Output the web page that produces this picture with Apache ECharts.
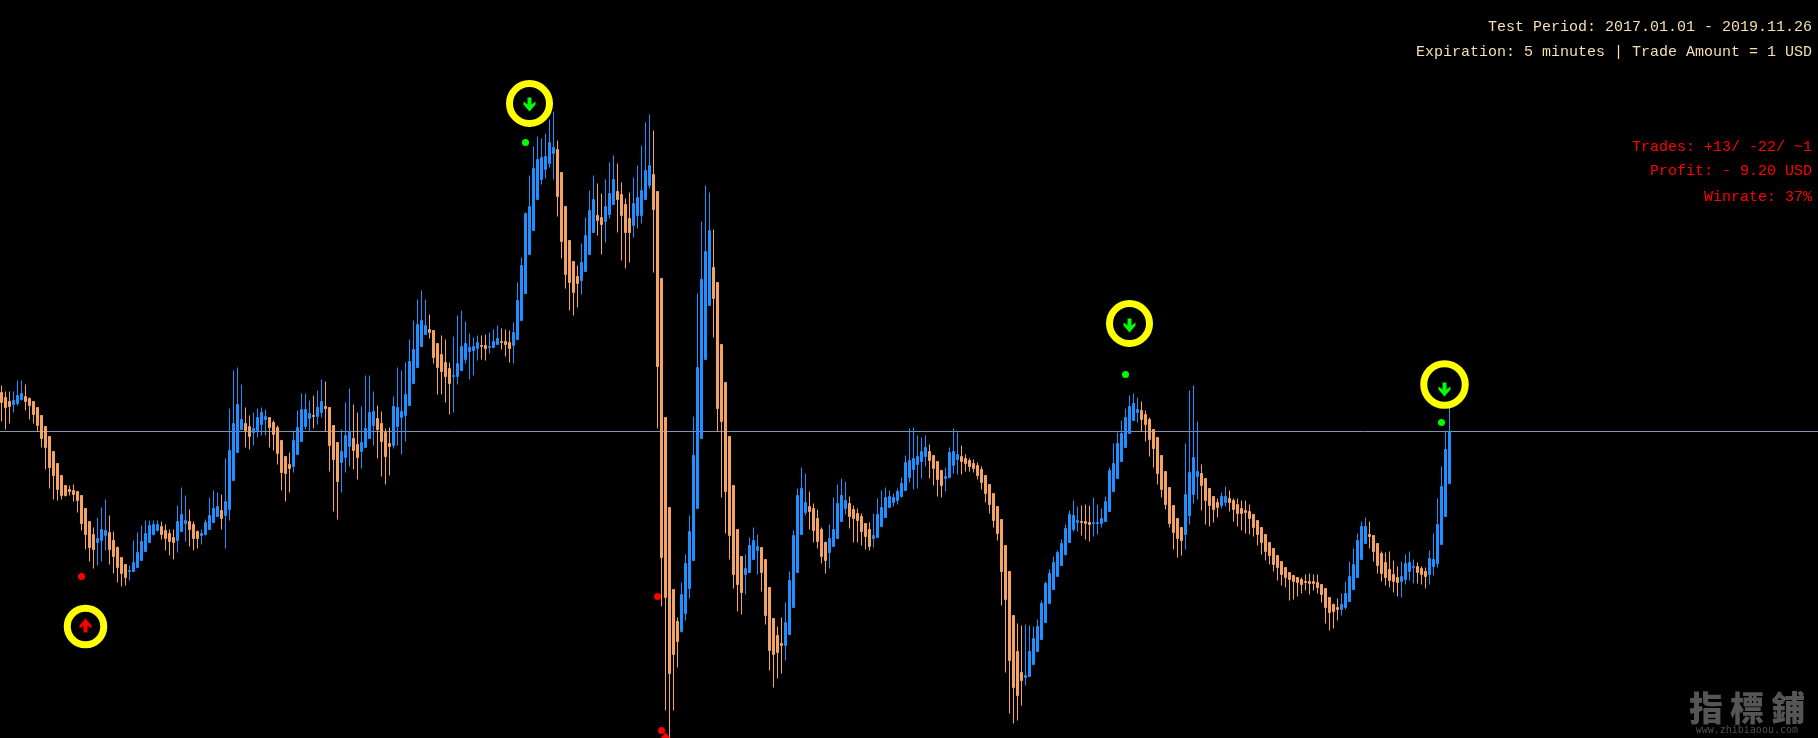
<!DOCTYPE html>
<html><head><meta charset="utf-8">
<style>html,body{margin:0;padding:0;background:#000;overflow:hidden}#c{width:1818px;height:738px}</style>
<script src="https://cdn.jsdelivr.net/npm/echarts@6/dist/echarts.min.js"></script>
</head><body><div id="c"></div>
<script>
// Each candle: [open, close, low, high] (price scale in chart units)
const candles = [
[346,336,317,353],[341,331,309,347],[337,332,315,347],[334,338,326,347],[335,343,333,358],[339,345,338,358],[342,337,328,354],[340,333,319,341],[337,324,315,337],[331,313,307,331],
[323,300,291,323],[312,291,269,312],[302,271,250,302],[287,263,239,287],[275,249,238,275],[263,243,239,263],[253,243,242,253],[249,247,243,253],[248,244,237,254],[247,238,226,247],
[243,215,208,243],[230,204,189,230],[217,191,177,217],[204,189,170,211],[196,200,173,221],[198,209,177,231],[203,208,188,239],[206,189,174,223],[198,182,165,207],[191,171,156,192],
[181,165,152,181],[174,161,153,174],[167,168,158,173],[167,176,167,198],[171,186,171,206],[178,197,178,213],[187,205,187,218],[196,213,196,218],[204,214,203,218],[208,214,207,218],
[212,204,199,217],[208,200,188,214],[205,197,183,209],[201,196,179,209],[198,217,186,233],[207,224,207,251],[215,218,197,243],[217,209,192,229],[214,200,188,217],[207,200,190,208],
[203,205,194,209],[204,216,203,219],[209,223,209,241],[216,230,216,248],[222,232,222,246],[228,220,209,244],[223,237,190,280],[229,288,218,330],[258,315,258,368],[286,334,286,371],
[309,319,309,354],[315,308,291,331],[312,302,289,323],[306,310,293,326],[308,321,301,330],[314,326,303,331],[319,322,303,329],[321,311,291,321],[316,304,288,318],[311,285,274,313],
[298,266,248,298],[282,265,237,282],[274,270,246,286],[272,298,266,308],[284,311,284,328],[297,329,297,345],[312,329,309,345],[320,325,307,338],[323,322,310,343],[322,331,314,348],
[326,337,321,359],[332,330,307,357],[331,293,267,331],[313,279,227,313],[296,257,219,296],[276,287,246,309],[281,303,266,336],[292,307,272,350],[300,288,269,334],[294,281,259,326],
[287,296,270,332],[291,310,291,363],[300,326,300,363],[313,327,293,347],[320,309,280,333],[315,297,262,327],[306,282,254,310],[295,292,263,311],[293,332,290,342],[312,331,293,371],
[321,327,284,368],[323,344,297,376],[333,377,333,399],[355,389,355,418],[371,414,371,439],[392,418,392,448],[404,413,404,439],[409,406,400,424],[408,381,375,408],[395,371,344,395],
[384,367,344,403],[376,362,336,399],[370,355,324,376],[362,363,326,402],[362,375,354,423],[368,392,368,428],[379,395,375,417],[387,391,359,405],[388,392,363,401],[390,396,378,403],
[393,392,379,403],[393,390,378,404],[391,392,385,406],[391,397,391,409],[394,400,394,413],[397,396,389,410],[397,394,382,409],[396,390,376,408],[393,406,375,416],[399,438,399,456],
[418,473,418,481],[445,525,445,526],[484,532,484,563],[508,570,508,592],[539,579,539,602],[559,581,554,600],[569,582,560,605],[575,596,571,619],[585,591,559,627],[589,542,522,598],
[566,497,480,566],[532,464,450,532],[498,456,428,498],[477,446,423,477],[462,455,431,473],[458,476,444,495],[467,503,467,521],[484,528,484,548],[506,539,506,563],[523,518,503,555],
[521,514,484,545],[517,532,496,559],[524,545,520,576],[534,559,534,583],[547,539,506,575],[544,523,478,556],[534,506,470,540],[520,506,476,546],[513,535,501,561],[523,541,510,573],
[523,548,515,593],[539,568,539,616],[553,573,550,624],[564,529,466,608],[547,372,310,547],[460,181,132,460],[321,141,28,321],[231,65,0,231],[149,84,28,149],[117,97,71,121],
[107,144,106,156],[125,175,118,184],[150,207,140,223],[178,283,178,322],[230,371,230,445],[300,459,300,517],[379,487,379,553],[433,508,433,546],[471,440,401,509],[456,330,307,456],
[394,317,241,394],[356,247,205,356],[302,203,179,302],[253,164,150,253],[209,154,127,209],[182,146,124,182],[164,170,144,184],[166,193,166,201],[179,198,179,211],[188,192,164,204],
[191,166,147,191],[179,123,114,179],[151,88,68,151],[120,84,51,120],[103,86,60,112],[95,93,65,121],[93,116,78,136],[104,158,104,167],[131,203,131,208],[166,243,166,250],
[204,250,204,271],[226,236,223,265],[232,227,209,247],[230,208,196,235],[220,197,190,229],[209,182,175,211],[196,178,165,197],[186,200,170,214],[192,209,192,241],[200,235,200,254],
[217,243,217,260],[230,238,224,257],[235,222,210,242],[229,220,196,233],[225,218,196,230],[222,207,193,225],[215,202,189,215],[209,192,188,216],[200,203,191,225],[201,224,201,240],
[212,231,212,248],[221,241,221,251],[231,242,231,248],[236,241,232,245],[238,247,234,250],[242,255,241,261],[248,276,248,283],[261,278,256,310],[269,280,249,311],[274,282,250,303],
[277,287,260,301],[282,291,272,303],[287,278,260,294],[283,270,253,283],[277,259,242,277],[268,253,241,268],[260,262,247,271],[261,286,261,291],[273,287,265,310],[279,284,264,306],
[282,277,264,293],[280,275,267,284],[278,272,267,280],[275,270,266,279],[273,263,259,276],[269,256,249,272],[263,245,236,263],[254,234,225,254],[245,218,211,245],[232,205,198,232],
[219,167,133,219],[193,139,66,193],[167,78,25,167],[123,51,15,123],[87,43,18,115],[66,58,33,113],[61,63,53,114],[62,87,62,113],[74,100,74,112],[87,112,87,119],
[99,135,99,138],[116,155,116,157],[135,165,135,169],[149,176,149,182],[162,186,162,188],[173,195,173,199],[184,210,183,214],[196,224,196,228],[209,223,207,238],[216,218,207,232],
[217,216,203,233],[217,215,199,234],[216,214,197,233],[215,216,202,241],[215,216,204,234],[215,220,211,230],[217,237,217,242],[227,268,227,271],[247,275,247,295],[260,295,260,306],
[277,305,277,318],[291,321,291,330],[305,332,305,343],[318,335,318,345],[326,329,316,341],[328,319,307,337],[324,314,297,328],[319,299,282,321],[309,290,271,309],[301,265,254,301],
[283,249,241,283],[267,234,229,267],[251,215,211,251],[233,206,189,233],[220,200,181,220],[211,198,183,211],[204,244,189,295],[223,266,214,348],[244,281,235,353],[262,267,239,317],
[265,253,228,274],[260,238,214,260],[250,233,212,250],[242,229,216,242],[236,231,221,240],[233,242,230,246],[236,242,232,252],[240,236,227,248],[238,229,217,240],[234,225,212,240],
[230,225,208,238],[228,226,205,238],[227,220,204,234],[224,211,202,224],[218,204,193,218],[211,196,184,211],[204,187,178,204],[196,183,174,196],[190,174,167,190],[183,171,158,183],
[177,164,153,177],[171,161,151,171],[166,159,138,166],[163,157,139,163],[161,156,142,161],[159,154,145,161],[157,156,148,164],[157,155,144,165],[157,155,148,164],[156,151,145,164],
[154,144,136,154],[150,131,115,150],[141,126,108,141],[134,127,110,135],[131,129,118,140],[129,134,123,145],[131,145,129,157],[137,162,137,177],[149,174,149,190],[161,198,161,205],
[179,212,179,217],[195,212,195,221],[204,202,190,217],[203,187,177,203],[195,173,165,195],[185,165,157,187],[176,161,153,186],[169,158,151,187],[164,157,146,178],[161,156,142,172],
[157,162,141,177],[159,175,154,184],[167,176,158,187],[171,172,155,179],[172,166,155,176],[170,164,154,172],[167,162,150,171],[164,180,154,188],[172,179,163,205],[175,214,171,240],
[194,252,194,272],[222,289,222,308],[255,307,255,331]
];
const referenceLevel = 307;
// Signals: [bar number, price]
const redDots = [[20,162],[164,142],[165,8]];
const greenDots = [[131,596],[281,364],[360,316]];
const upArrows = [[21,113],[166,-1]];
const downArrows = [[132,634],[282,413],[360.75,349]];
const rings = [[21,112],[132,635],[282,415],[360.75,354]];
const headerLines = ['Test Period: 2017.01.01 - 2019.11.26','Expiration: 5 minutes | Trade Amount = 1 USD'];
const statLines = ['Trades: +13/ -22/ ~1','Profit: - 9.20 USD','Winrate: 37%'];
const watermark = ['指','標','鋪'];
const watermarkUrl = 'www.zhibiaoou.com';

const ringSizes = [36.5, 40, 40, 41.5];
const headerY = [27, 52], statY = [147, 171.5, 197];
const arrowUpPath = 'path://M6,0 L12,7 L12,10 L8,7 L8,14 L4,14 L4,7 L0,10 L0,7 Z';
const arrowDownPath = 'path://M4,0 L8,0 L8,7 L12,4 L12,7 L6,14 L0,7 L0,4 L4,7 Z';
const monoFont = '"Liberation Mono","Courier New",monospace';

const textEl = (text, x, y, fill, font, align) => ({
  type: 'text', x, y, silent: true,
  style: { text, fill, font, textAlign: align || 'right', textVerticalAlign: 'middle' }
});
const graphics = [
  ...headerLines.map((t, i) => textEl(t, 1812, headerY[i], '#f5deb3', '15px ' + monoFont)),
  ...statLines.map((t, i) => textEl(t, 1812, statY[i], '#ff0000', '15px ' + monoFont)),
  ...watermark.map((t, i) => textEl(t, 1706 + i * 41, 708, '#555555', '900 34px "Noto Sans CJK TC"', 'center')),
  textEl(watermarkUrl, 1798, 730, '#4e4e4e', '10px "DejaVu Sans Mono"')
];

const scatter = (data, symbol, size, itemStyle, z) => ({
  type: 'scatter', data, symbol, symbolSize: size, itemStyle: Object.assign({ opacity: 1 }, itemStyle),
  clip: false, z, silent: true, animation: false
});

const chart = echarts.init(document.getElementById('c'), null, { renderer: 'canvas' });
chart.setOption({
  backgroundColor: '#000',
  animation: false,
  grid: { left: 0, top: 0, right: 0, bottom: 0 },
  xAxis: { type: 'value', min: -0.375, max: 454.125, show: false, splitLine: { show: false } },
  yAxis: { type: 'value', min: 0.5, max: 738.5, show: false, splitLine: { show: false } },
  series: [
    {
      type: 'candlestick', data: candles.map((c, i) => [i, ...c]), barWidth: 2, silent: true,
      itemStyle: { color: '#1e90ff', color0: '#f4a460', borderColor: '#1e90ff', borderColor0: '#f4a460', borderWidth: 1 },
      markLine: {
        silent: true, symbol: 'none', label: { show: false }, animation: false, z: 1,
        lineStyle: { color: '#8494ae', width: 1, type: 'solid' },
        data: [{ yAxis: referenceLevel }]
      }
    },
    scatter(rings, 'circle', (v, p) => ringSizes[p.dataIndex], { color: 'rgba(0,0,0,0)', borderColor: '#ffff00', borderWidth: 7 }, 5),
    scatter(redDots, 'circle', 7, { color: '#ff0000' }, 6),
    scatter(greenDots, 'circle', 7, { color: '#00ff00' }, 6),
    scatter(upArrows, arrowUpPath, [12, 14], { color: '#ff0000' }, 6),
    scatter(downArrows, arrowDownPath, [12, 14], { color: '#00ff00' }, 6)
  ],
  graphic: graphics
});
</script></body></html>
